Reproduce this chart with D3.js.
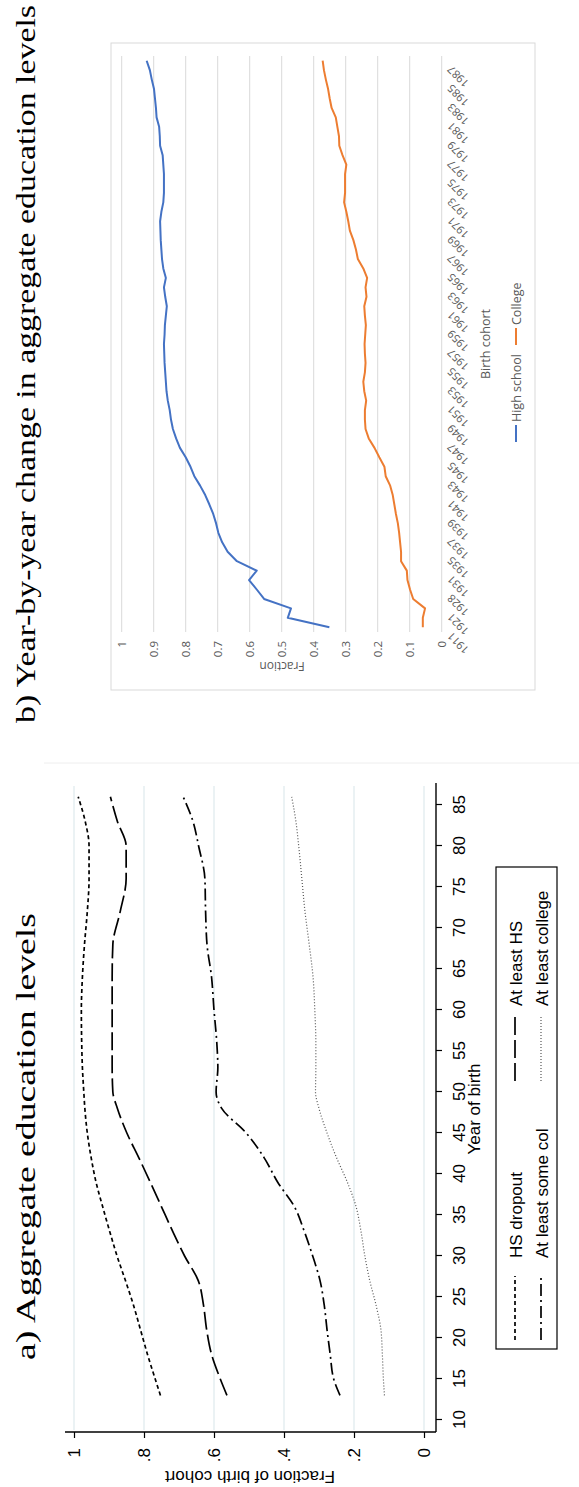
<!DOCTYPE html>
<html lang="en">
<head>
<meta charset="UTF-8">
<script src="https://d3js.org/d3.v7.min.js"></script>
<style>
  body { margin: 0; background: #fff; }
  svg { display: block; }
</style>
</head>
<body>
<div id="chart"></div>
<script>
// ---- panel a: aggregate education levels (smoothed) ----
const birthYearsA = [13, 15, 18, 21, 24, 27, 30, 33, 36, 39, 42, 45, 48, 50, 53, 56, 60, 64, 68, 72, 76, 80, 83, 86];
const hsDropout = [0.753, 0.768, 0.79, 0.81, 0.83, 0.853, 0.877, 0.898, 0.918, 0.937, 0.951, 0.962, 0.969, 0.972, 0.976, 0.978, 0.979, 0.976, 0.97, 0.962, 0.957, 0.957, 0.968, 0.988];
const atLeastHS = [0.563, 0.582, 0.607, 0.621, 0.63, 0.645, 0.684, 0.718, 0.75, 0.782, 0.815, 0.849, 0.876, 0.889, 0.891, 0.891, 0.891, 0.891, 0.889, 0.868, 0.851, 0.851, 0.876, 0.896];
const atLeastSomeCol = [0.24, 0.258, 0.268, 0.277, 0.285, 0.297, 0.318, 0.342, 0.37, 0.418, 0.457, 0.508, 0.578, 0.594, 0.589, 0.592, 0.6, 0.607, 0.62, 0.624, 0.626, 0.644, 0.66, 0.688];
const atLeastCollege = [0.113, 0.116, 0.119, 0.123, 0.137, 0.155, 0.169, 0.18, 0.194, 0.219, 0.25, 0.277, 0.3, 0.31, 0.309, 0.309, 0.312, 0.317, 0.328, 0.34, 0.349, 0.358, 0.366, 0.378];
const yearTicksA = [10, 15, 20, 25, 30, 35, 40, 45, 50, 55, 60, 65, 70, 75, 80, 85];
const fracTicksA = [0, 0.2, 0.4, 0.6, 0.8, 1];

// ---- panel b: year-by-year (Excel chart) ----
const cohorts = [1911, 1916, 1921, 1926, 1928, 1930, 1931, 1933, 1935, 1936, 1937, 1938, 1939, 1940,
  1941, 1942, 1943, 1944, 1945, 1946, 1947, 1948, 1949, 1950, 1951, 1952, 1953, 1954, 1955, 1956,
  1957, 1958, 1959, 1960, 1961, 1962, 1963, 1964, 1965, 1966, 1967, 1968, 1969, 1970, 1971, 1972,
  1973, 1974, 1975, 1976, 1977, 1978, 1979, 1980, 1981, 1982, 1983, 1984, 1985, 1986, 1987];
const highSchool = [0.351, 0.481, 0.471, 0.555, 0.578, 0.602, 0.578, 0.64, 0.669, 0.686, 0.698, 0.705, 0.714, 0.726, 0.739,
  0.755, 0.773, 0.785, 0.8, 0.818, 0.83, 0.84, 0.846, 0.85, 0.856, 0.86, 0.862, 0.864, 0.866, 0.867,
  0.868, 0.866, 0.865, 0.862, 0.859, 0.864, 0.868, 0.862, 0.87, 0.874, 0.876, 0.878, 0.879, 0.88, 0.876,
  0.87, 0.868, 0.868, 0.868, 0.87, 0.872, 0.88, 0.881, 0.883, 0.891, 0.893, 0.896, 0.899, 0.906, 0.912, 0.922];
const college = [0.059, 0.059, 0.052, 0.089, 0.099, 0.107, 0.109, 0.127, 0.127, 0.13, 0.133, 0.137, 0.143, 0.148, 0.153,
  0.161, 0.175, 0.179, 0.195, 0.21, 0.228, 0.238, 0.24, 0.24, 0.236, 0.242, 0.245, 0.24, 0.238, 0.24,
  0.241, 0.239, 0.237, 0.24, 0.242, 0.235, 0.238, 0.233, 0.245, 0.262, 0.268, 0.276, 0.287, 0.292, 0.298,
  0.305, 0.302, 0.302, 0.302, 0.298, 0.31, 0.32, 0.321, 0.326, 0.331, 0.344, 0.35, 0.355, 0.362, 0.368, 0.372];
const fracTicksB = [0, 0.1, 0.2, 0.3, 0.4, 0.5, 0.6, 0.7, 0.8, 0.9, 1];

const W = 579, H = 1487;
const svg = d3.select("#chart").append("svg").attr("width", W).attr("height", H);

// the whole figure sits on its side; draw it upright (1487 wide x 579 tall) and turn it
const root = svg.append("g").attr("transform", `translate(0,${H}) rotate(-90)`);

const serif = "'Liberation Serif', 'DejaVu Serif', serif";
const stataFont = "'Liberation Sans', Arial, sans-serif";
const xlFont = "'Open Sans', 'Noto Sans', sans-serif";

// =================== panel a ===================
const a = root.append("g");
const xA = d3.scaleLinear().domain([10, 85]).range([67, 682]);
const yA = d3.scaleLinear().domain([0, 1]).range([424, 74]);

a.append("text")
    .attr("x", 127).attr("y", 35)
    .attr("textLength", 447).attr("lengthAdjust", "spacingAndGlyphs")
    .style("font-family", serif).style("font-size", "28px")
    .text("a) Aggregate education levels");

a.selectAll(".gridA")
    .data(fracTicksA)
    .enter().append("line")
    .attr("class", "gridA")
    .attr("x1", 57).attr("x2", 701)
    .attr("y1", d => yA(d)).attr("y2", d => yA(d))
    .attr("stroke", "#e4eef0").attr("stroke-width", 1.5);

const axYear = a.append("g")
    .attr("transform", "translate(0,436)")
    .call(d3.axisBottom(xA).tickValues(yearTicksA).tickSize(6).tickPadding(11).tickSizeOuter(0));
axYear.select(".domain").remove();
axYear.attr("font-family", stataFont).attr("font-size", 17);
axYear.selectAll("line").attr("stroke", "#000").attr("stroke-width", 1.2);
a.append("line").attr("x1", 55).attr("x2", 704).attr("y1", 436).attr("y2", 436)
    .attr("stroke", "#000").attr("stroke-width", 1.4);

const axFrac = a.append("g")
    .attr("transform", "translate(55,0)")
    .call(d3.axisLeft(yA).tickValues(fracTicksA).tickSize(6).tickPadding(10).tickSizeOuter(0)
        .tickFormat(d => d === 0 ? "0" : d === 1 ? "1" : "." + Math.round(d * 10)));
axFrac.select(".domain").remove();
axFrac.attr("font-family", stataFont).attr("font-size", 17);
axFrac.selectAll("line").attr("stroke", "#000").attr("stroke-width", 1.2);
a.append("line").attr("x1", 55).attr("x2", 55).attr("y1", 65).attr("y2", 436)
    .attr("stroke", "#000").attr("stroke-width", 1.4);

a.append("text")
    .attr("transform", "translate(16,250) rotate(-90)")
    .attr("text-anchor", "middle")
    .style("font-family", stataFont).style("font-size", "17px")
    .text("Fraction of birth cohort");

a.append("text")
    .attr("x", 378).attr("y", 480)
    .attr("text-anchor", "middle")
    .style("font-family", stataFont).style("font-size", "17px")
    .text("Year of birth");

const seriesA = [
    {name: "HS dropout", values: hsDropout, dash: "4,3", width: 1.7, color: "#000"},
    {name: "At least HS", values: atLeastHS, dash: "18,5", width: 1.7, color: "#000"},
    {name: "At least some col", values: atLeastSomeCol, dash: "12,4,2,4", width: 1.7, color: "#000"},
    {name: "At least college", values: atLeastCollege, dash: "1,2", width: 1.2, color: "#555"}
];

const lineA = d3.line()
    .x(d => xA(d.year))
    .y(d => yA(d.v))
    .curve(d3.curveMonotoneX);

a.selectAll(".lineA")
    .data(seriesA)
    .enter().append("path")
    .attr("class", "lineA")
    .attr("d", s => lineA(birthYearsA.map((yr, i) => ({year: yr, v: s.values[i]}))))
    .attr("fill", "none")
    .attr("stroke", s => s.color)
    .attr("stroke-width", s => s.width)
    .attr("stroke-dasharray", s => s.dash);

// legend
a.append("rect").attr("x", 138).attr("y", 496).attr("width", 482).attr("height", 61)
    .attr("fill", "#fff").attr("stroke", "#000").attr("stroke-width", 1.2);
const legPos = [
    {kx: 147, tx: 229, row: 0},
    {kx: 406, tx: 481, row: 0},
    {kx: 147, tx: 229, row: 1},
    {kx: 406, tx: 481, row: 1}
];
seriesA.forEach((s, k) => {
    const p = legPos[k];
    const base = p.row === 0 ? 522 : 548;
    a.append("line")
        .attr("x1", p.kx).attr("x2", p.kx + 64)
        .attr("y1", base - 7).attr("y2", base - 7)
        .attr("stroke", s.color).attr("stroke-width", s.width)
        .attr("stroke-dasharray", s.dash);
    a.append("text")
        .attr("x", p.tx).attr("y", base)
        .style("font-family", stataFont).style("font-size", "17px")
        .text(s.name);
});

// faint divider above panel a
a.append("line").attr("x1", 724).attr("x2", 724).attr("y1", 44).attr("y2", 579)
    .attr("stroke", "#eeeeee").attr("stroke-width", 1);

// =================== panel b ===================
const b = root.append("g");
const xB = d3.scalePoint().domain(cohorts).range([855, 1431]).padding(0.5);
const yB = d3.scaleLinear().domain([0, 1]).range([441.7, 121.7]);

b.append("text")
    .attr("x", 764).attr("y", 35)
    .attr("textLength", 718).attr("lengthAdjust", "spacingAndGlyphs")
    .style("font-family", serif).style("font-size", "28px")
    .text("b) Year-by-year change in aggregate education levels");

b.append("rect").attr("x", 797).attr("y", 111).attr("width", 647).attr("height", 424)
    .attr("fill", "#fff").attr("stroke", "#d9d9d9").attr("stroke-width", 1);

b.selectAll(".gridB")
    .data(fracTicksB)
    .enter().append("line")
    .attr("class", "gridB")
    .attr("x1", 855).attr("x2", 1431)
    .attr("y1", d => yB(d)).attr("y2", d => yB(d))
    .attr("stroke", "#d9d9d9").attr("stroke-width", 1);

b.selectAll(".ytickB")
    .data(fracTicksB)
    .enter().append("text")
    .attr("class", "ytickB")
    .attr("x", 846).attr("y", d => yB(d) + 4)
    .attr("text-anchor", "end")
    .attr("fill", "#595959")
    .style("font-family", xlFont).style("font-size", "11.5px")
    .text(d => d3.format("")(d));

b.selectAll(".xtickB")
    .data(cohorts.filter((c, i) => i % 2 === 0))
    .enter().append("text")
    .attr("class", "xtickB")
    .attr("transform", d => `translate(${xB(d) - 4},452) rotate(-45)`)
    .attr("text-anchor", "end")
    .attr("fill", "#595959")
    .style("font-family", xlFont).style("font-size", "11px")
    .text(d => d);

b.append("text")
    .attr("transform", "translate(825,282) rotate(-90)")
    .attr("text-anchor", "middle")
    .attr("fill", "#595959")
    .style("font-family", xlFont).style("font-size", "12px")
    .text("Fraction");

b.append("text")
    .attr("x", 1143).attr("y", 490)
    .attr("text-anchor", "middle")
    .attr("fill", "#595959")
    .style("font-family", xlFont).style("font-size", "12.5px")
    .text("Birth cohort");

const seriesB = [
    {name: "High school", values: highSchool, color: "#4472c4"},
    {name: "College", values: college, color: "#ed7d31"}
];
const lineB = d3.line()
    .x(d => xB(d.c))
    .y(d => yB(d.v));

b.selectAll(".lineB")
    .data(seriesB)
    .enter().append("path")
    .attr("class", "lineB")
    .attr("d", s => lineB(cohorts.map((c, i) => ({c: c, v: s.values[i]}))))
    .attr("fill", "none")
    .attr("stroke", d => d.color)
    .attr("stroke-width", 2)
    .attr("stroke-linejoin", "round");

const legB = [{kx: 1045, tx: 1065}, {kx: 1142, tx: 1162}];
seriesB.forEach((s, i) => {
    b.append("line")
        .attr("x1", legB[i].kx).attr("x2", legB[i].kx + 17)
        .attr("y1", 516).attr("y2", 516)
        .attr("stroke", s.color).attr("stroke-width", 2);
    b.append("text")
        .attr("x", legB[i].tx).attr("y", 521)
        .attr("fill", "#595959")
        .style("font-family", xlFont).style("font-size", "12.5px")
        .text(s.name);
});
</script>
</body>
</html>
